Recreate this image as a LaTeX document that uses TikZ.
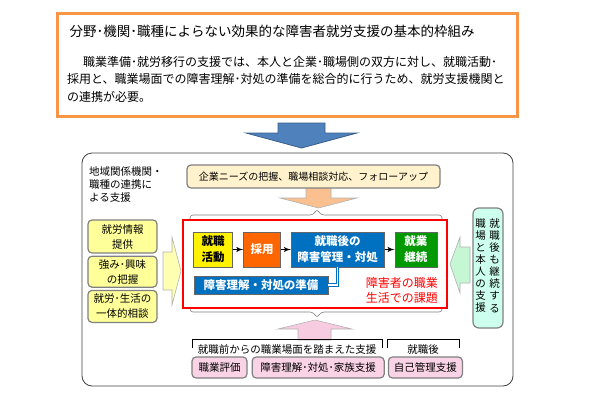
\documentclass[tikz,border=0pt]{standalone}
\usepackage{fontspec}
\setmainfont{Noto Sans CJK JP}
\usepackage{tikz}
\usetikzlibrary{arrows, positioning, shapes}
\definecolor{orangeline}{HTML}{F79646}
\definecolor{bluefill}{HTML}{4F81BD}
\definecolor{blueline}{HTML}{385D8A}
\definecolor{cream}{HTML}{FFF2CC}
\definecolor{peach}{HTML}{FAC090}
\definecolor{hireorange}{HTML}{FF6600}
\definecolor{stepblue}{HTML}{0070C0}
\definecolor{stepgreen}{HTML}{009900}
\definecolor{lightyellow}{HTML}{FFFF99}
\definecolor{paleyellow}{HTML}{FFFFB3}
\definecolor{pinkarrow}{HTML}{F8CCE0}
\definecolor{pinkbox}{HTML}{FAD3E6}
\definecolor{palegreen}{HTML}{C6F7D4}
\definecolor{mint}{HTML}{CCFFEE}
\newcommand{\setfs}[2]{\fontsize{#1}{#2}\selectfont}
\tikzstyle{softbox} = [draw=gray, line width=1.2pt, rounded corners=4pt, align=center,
    inner sep=0pt, font=\setfs{10.5}{15}]
\tikzstyle{stepbox} = [draw=black!60, line width=0.6pt, align=center, inner sep=0pt,
    minimum height=35pt, text=white, font=\setfs{11.5}{16}\bfseries]
\tikzstyle{arrow} = [arrows=->, black, line width=1.4pt]
\tikzstyle{link} = [draw=stepblue, double=white, double distance=1.2pt, line width=1pt]
\tikzstyle{brace} = [draw=gray, line width=0.6pt, rounded corners=3pt]
\tikzstyle{bracket} = [draw=black, line width=0.6pt]
\tikzstyle{blockarrow} = [draw=gray!60, line width=0.6pt]

\begin{document}
\begin{tikzpicture}[x=1pt, y=-1pt, >=latex']
    \useasboundingbox (0,0) rectangle (590,400);

    % Top explanation
    \node [draw=orangeline, line width=3pt, minimum width=460pt, minimum height=103pt] (topbox) at (287,64.5) {};
    \node [anchor=west, font=\setfs{13.5}{16}] (title) at (66,31) {分野･機関･職種によらない効果的な障害者就労支援の基本的枠組み};
    \node [anchor=north west, align=left, inner sep=0pt, font=\setfs{12}{17.5}] (para) at (67,56)
        {\hspace*{16pt}職業準備･就労移行の支援では、本人と企業･職場側の双方に対し、就職活動･\\
         採用と、職業場面での障害理解･対処の準備を総合的に行うため、就労支援機関と\\
         の連携が必要。};
    \draw [blockarrow, draw=blueline, fill=bluefill, line width=0.8pt] (278,123) -- (325,123) -- (325,133)
        -- (357,133) -- (301.5,148) -- (246,133) -- (278,133) -- cycle;

    % Frame and its label
    \node [draw=black!75, line width=0.8pt, rounded corners=10pt, minimum width=431pt, minimum height=233pt] (frame) at (297.5,269.5) {};
    \node [anchor=north west, align=left, inner sep=0pt, font=\setfs{10.5}{13}] (region) at (89,166) {地域関係機関・\\職種の連携に\\よる支援};

    % Company side
    \draw [blockarrow, fill=peach] (306,186) -- (331,186) -- (331,198) -- (357,198) -- (318.5,208) -- (280,198) -- (306,198) -- cycle;
    \node [softbox, fill=cream, minimum width=253pt, minimum height=23pt, font=\setfs{10}{12}] (needs) at (313.5,176.5) {企業ニーズの把握、職場相談対応、フォローアップ};

    % Issues of working life
    \draw [brace] (190,226) -- (190,215) -- (313,215) -- (317,209) -- (321,215) -- (442,215) -- (442,226);
    \draw [brace] (190,302) -- (190,312) -- (313,312) -- (317,318) -- (321,312) -- (442,312) -- (442,302);
    \node [draw=red, line width=2.5pt, fill=white, minimum width=264pt, minimum height=88pt] (issues) at (315,264) {};
    \node [stepbox, fill=yellow, text=black, minimum width=39pt] (job) at (213,249.5) {就職\\活動};
    \node [stepbox, fill=hireorange, minimum width=37pt, right=10.5pt of job] (hire) {採用};
    \node [stepbox, fill=stepblue, minimum width=93pt, right=10pt of hire] (after) {就職後の\\障害管理・対処};
    \node [stepbox, fill=stepgreen, minimum width=42pt, right=10pt of after] (cont) {就業\\継続};
    \node [stepbox, fill=stepblue, minimum width=134pt, minimum height=18pt, font=\setfs{11.5}{14}\bfseries] (prep) at (261,285) {障害理解・対処の準備};
    \node [anchor=east, align=right, inner sep=0pt, text=red, font=\setfs{12}{15}] (issuelabel) at (438,290.5) {障害者の職業\\生活での課題};

    \draw [arrow] (job) -- (hire);
    \draw [arrow] (hire) -- (after);
    \draw [arrow] (after) -- (cont);
    \draw [link] (prep.east) -| (after.south);

    % Left side
    \node [softbox, fill=lightyellow, minimum width=69pt, minimum height=33pt] (info) at (122.5,236.5) {就労情報\\提供};
    \node [softbox, fill=lightyellow, minimum width=69pt, minimum height=31pt, below=2pt of info] (interest) {強み･興味\\の把握};
    \node [softbox, fill=lightyellow, minimum width=69pt, minimum height=32pt, below=2pt of interest] (life) {就労･生活の\\一体的相談};
    \draw [blockarrow, fill=paleyellow] (163,252) -- (172,252) -- (172,237) -- (181,271) -- (172,305) -- (172,290) -- (163,290) -- cycle;

    % Right side
    \draw [blockarrow, fill=palegreen] (470,247) -- (460,247) -- (460,237) -- (450,264) -- (460,293) -- (460,283) -- (470,283) -- cycle;
    \node [softbox, fill=mint, minimum width=30pt, minimum height=120pt, rounded corners=6pt] (keep) at (488,268) {};
    \node [align=center, inner sep=0pt, font=\setfs{10.5}{12.1}] (keepA) at (494.5,265.5) {就\\職\\後\\も\\継\\続\\す\\る};
    \node [align=center, inner sep=0pt, font=\setfs{10.5}{12.1}] (keepB) at (480.5,265.5) {職\\場\\と\\本\\人\\の\\支\\援};

    % Bottom side
    \draw [blockarrow, fill=pinkarrow] (298,340) -- (298,329) -- (278,329) -- (315,320) -- (352,329) -- (331,329) -- (331,340) -- cycle;
    \node [font=\setfs{10.5}{12}] (before) at (287,349.5) {就職前からの職業場面を踏まえた支援};
    \node [font=\setfs{10.5}{12}] (later) at (423,349.5) {就職後};
    \draw [bracket] (192,348) |- (382,339) -- (382,348);
    \draw [bracket] (387,348) |- (459,339) -- (459,348);
    \node [softbox, fill=pinkbox, minimum width=55pt, minimum height=21pt] (eval) at (219.5,367.5) {職業評価};
    \node [softbox, fill=pinkbox, minimum width=132pt, minimum height=21pt, right=4pt of eval] (family) {障害理解･対処･家族支援};
    \node [softbox, fill=pinkbox, minimum width=74pt, minimum height=21pt, right=3pt of family] (selfcare) {自己管理支援};
\end{tikzpicture}
\end{document}
